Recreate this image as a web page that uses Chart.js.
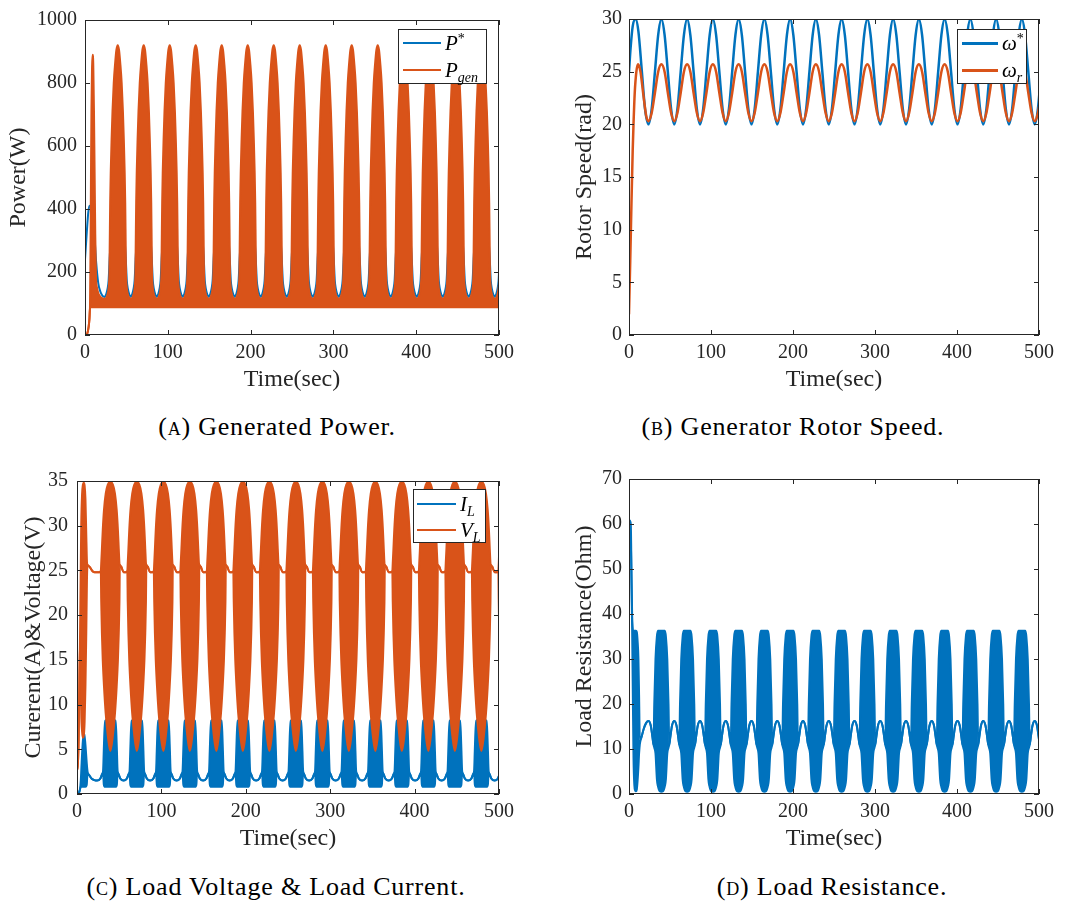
<!DOCTYPE html>
<html>
<head>
<meta charset="utf-8">
<title>Wind generator simulation</title>
<script src="https://cdn.jsdelivr.net/npm/chart.js@4.4.1/dist/chart.umd.min.js"></script>
<style>
  html, body { margin: 0; padding: 0; background: #fff; }
  #figure { position: relative; width: 1079px; height: 903px; font-family: "Liberation Serif", "Times New Roman", serif; color: #000; }
  #figure canvas { position: absolute; }
  .legend { position: absolute; background: #fff; border: 1px solid #262626; box-sizing: border-box; }
  .legend .row { position: absolute; height: 20px; display: flex; align-items: center; white-space: nowrap; }
  .legend .swatch { display: inline-block; }
  .legend .lbl { font-size: 21px; color: #000; line-height: 20px; }
  .legend i { font-style: italic; }
  .legend sup { font-size: 14px; vertical-align: 7px; line-height: 0; }
  .legend sub { font-size: 14px; vertical-align: -5px; line-height: 0; }
  .caption { position: absolute; font-family: "Liberation Serif", "Times New Roman", serif; font-size: 26px; letter-spacing: 0.8px; white-space: nowrap; transform: translate(-50%, -50%); }
  .sc { font-variant: small-caps; }
</style>
</head>
<body>
<div id="figure">
  <canvas id="powerChart" width="540" height="400" style="left:0;top:0"></canvas>
  <canvas id="speedChart" width="539" height="400" style="left:540px;top:0"></canvas>
  <canvas id="loadChart" width="540" height="400" style="left:0;top:460px"></canvas>
  <canvas id="resistChart" width="539" height="400" style="left:540px;top:460px"></canvas>

  <div class="legend" style="left:398px;top:29px;width:89px;height:55px">
    <div class="row" style="left:4px;top:3px"><span class="swatch" style="width:38px;height:2px;background:#0072bd;margin-right:4px"></span><span class="lbl"><i>P</i><sup>*</sup></span></div>
    <div class="row" style="left:4px;top:30px"><span class="swatch" style="width:38px;height:2px;background:#d95319;margin-right:4px"></span><span class="lbl"><i>P</i><sub><i>gen</i></sub></span></div>
  </div>
  <div class="legend" style="left:957px;top:29px;width:70px;height:55px">
    <div class="row" style="left:4px;top:3px"><span class="swatch" style="width:36px;height:3px;background:#0072bd;margin-right:4px"></span><span class="lbl"><i>ω</i><sup>*</sup></span></div>
    <div class="row" style="left:4px;top:30px"><span class="swatch" style="width:36px;height:3px;background:#d95319;margin-right:4px"></span><span class="lbl"><i>ω</i><sub><i>r</i></sub></span></div>
  </div>
  <div class="legend" style="left:413px;top:489px;width:73px;height:54px">
    <div class="row" style="left:3px;top:4px"><span class="swatch" style="width:39px;height:2px;background:#0072bd;margin-right:4px"></span><span class="lbl"><i>I</i><sub><i>L</i></sub></span></div>
    <div class="row" style="left:3px;top:30px"><span class="swatch" style="width:39px;height:2px;background:#d95319;margin-right:4px"></span><span class="lbl"><i>V</i><sub><i>L</i></sub></span></div>
  </div>

  <div class="caption" style="left:277px;top:427px">(<span class="sc">a</span>) Generated Power.</div>
  <div class="caption" style="left:793px;top:427px">(<span class="sc">b</span>) Generator Rotor Speed.</div>
  <div class="caption" style="left:276px;top:887px">(<span class="sc">c</span>) Load Voltage &amp; Load Current.</div>
  <div class="caption" style="left:832px;top:887px">(<span class="sc">d</span>) Load Resistance.</div>
</div>

<script>
const BLUE = '#0072bd';
const ORANGE = '#d95319';
const AXIS = '#262626';

// Tick labels
const xTicks = [0, 100, 200, 300, 400, 500];
const powerTicks = [0, 200, 400, 600, 800, 1000];
const speedTicks = [0, 5, 10, 15, 20, 25, 30];
const loadTicks = [0, 5, 10, 15, 20, 25, 30, 35];
const resistTicks = [0, 10, 20, 30, 40, 50, 60, 70];

// Centre of every wind gust after the start-up (sec); the last one lies past the axis end
const peakTimes = [39.5, 70.9, 102.3, 133.7, 165.1, 196.5, 227.9, 259.3, 290.7, 322.1, 353.5, 384.9, 416.3, 447.7, 479.1, 510.5];

// --- (a) power: start-up part, then one gust cycle (offset from gust centre)
const pRefStartT = [0, 2, 4, 5.5, 8, 11, 13.5, 16, 18.5, 21];
const pRefStartV = [240, 320, 390, 410, 400, 330, 230, 165, 138, 125];
const pRefOffsets = [-15.7, -13.8, -12.3, -11, -9.6, -7.5, -4, 0, 4, 7.5, 9.6, 11, 12.3, 13.8];
const pRefValues = [121, 130, 146, 172, 250, 330, 395, 412, 395, 330, 250, 172, 146, 130];

const pGenStartT = [0, 2, 3.5, 5, 6, 6.6, 7.2, 7.8, 8.5, 9.2, 10, 10.8, 11.6, 12.4, 13.2, 14.5, 16.5, 19, 21.5];
const pGenStartHi = [0, 2, 12, 40, 88, 250, 500, 720, 850, 890, 860, 720, 520, 320, 190, 150, 130, 120, 116];
const pGenStartLo = [0, 2, 12, 40, 88, 88, 88, 88, 88, 88, 88, 88, 88, 88, 88, 88, 88, 88, 88];
const pGenOffsets = [-15.7, -13.5, -11.8, -10.6, -10, -9.6, -9.1, -8.4, -7.4, -6.3, -4.8, -3.2, -1.6, 0, 1.6, 3.2, 4.8, 6.3, 7.4, 8.4, 9.1, 9.6, 10, 10.6, 11.8, 13.5];
const pGenHi = [115, 120, 135, 160, 200, 300, 420, 520, 620, 710, 800, 860, 905, 920, 905, 860, 800, 710, 620, 520, 420, 300, 200, 160, 135, 120];
const pGenLo = [88, 88, 88, 88, 88, 88, 88, 88, 88, 88, 88, 88, 88, 88, 88, 88, 88, 88, 88, 88, 88, 88, 88, 88, 88, 88];

// --- (b) rotor speed
const wRefStartT = [0, 2, 4.5, 8, 11.5, 15.5, 19.5];
const wRefStartV = [25, 27.3, 29.3, 30, 28.8, 25.2, 21.5];
const wRotStartT = [0, 1.5, 3, 4.5, 5.5, 7, 9, 11, 14, 17.5, 21];
const wRotStartV = [2, 7, 12.5, 17.5, 20, 23, 25, 25.7, 25, 22.8, 20.8];
const wOffsets = [-15.7, -11.8, -7.85, -3.9, 0, 3.9, 7.85, 11.8];
const wRefValues = [20, 21.5, 25, 28.5, 30, 28.5, 25, 21.5];
const wRotValues = [20.3, 21.1, 23, 25, 25.7, 25, 23, 21.1];

// --- (c) load voltage and current
const vStartT = [0, 1.2, 2.5, 3.5, 4.3, 5, 6, 7, 8, 9, 10, 11, 11.8, 12.5, 15, 18.5, 21];
const vStartHi = [2.8, 2.8, 10, 17, 24, 30, 33.5, 34.6, 34.8, 34.5, 33, 29, 26, 25.6, 25.4, 24.9, 24.8];
const vStartLo = [2.8, 2.8, 10, 17, 14, 9, 7, 6.3, 6.5, 8, 12, 18, 24, 25.6, 25.4, 24.9, 24.8];
const vOffsets = [-15.7, -13, -11.3, -10.8, -10, -9, -7.5, -5.5, -3, 0, 3, 5.5, 7.5, 9, 10, 10.8, 11.3, 13];
const vHi = [24.8, 24.8, 24.9, 25.8, 27.4, 29.5, 31.8, 33.6, 34.6, 34.9, 34.6, 33.6, 31.8, 29.5, 27.4, 25.8, 25.6, 25.4];
const vLo = [24.8, 24.8, 24.9, 21.5, 18, 15, 12, 9, 6.5, 4.8, 6.5, 9, 12, 15, 18, 21.5, 25.6, 25.4];

const iStartT = [0, 2, 3.5, 4.5, 5.5, 7, 8.5, 10, 11.5, 12.5, 14.5, 17.5, 20.5];
const iStartHi = [0, 0.1, 0.5, 1.5, 3.5, 6, 6.8, 5.5, 3.5, 2.5, 2.1, 1.7, 1.55];
const iStartLo = [0, 0.1, 0.5, 0.8, 0.8, 0.8, 0.8, 0.8, 1, 2.3, 2.1, 1.7, 1.55];
const iOffsets = [-15.7, -12, -9.8, -8.6, -7.8, -7, -6, -3, 0, 3, 6, 7, 7.8, 8.6, 9.8, 12];
const iHi = [1.5, 1.7, 2.2, 2.6, 4.8, 7, 8.2, 8.3, 8.3, 8.3, 8.2, 7, 4.8, 2.6, 2.2, 1.7];
const iLo = [1.5, 1.7, 2.2, 2.4, 1.1, 0.85, 0.8, 0.8, 0.8, 0.8, 0.8, 0.85, 1.1, 2.4, 2.2, 1.7];

// --- (d) load resistance
const rStartT = [0, 1, 2.2, 3, 3.8, 4.5, 5.5, 6.5, 7.5, 8.5, 9.5, 10.5, 11.5, 12.3, 13.2, 15, 18, 21];
const rStartHi = [60.5, 60.8, 60, 50, 40, 37, 36, 36.3, 36.3, 36.3, 36, 34, 30, 22, 12, 12.5, 14.5, 15.8];
const rStartLo = [56, 56.5, 57, 47, 37, 25, 8, 2, 0.8, 0.6, 1, 3, 6, 9, 11, 12.5, 14.5, 15.8];
const rOffsets = [-15.7, -13, -11, -9.6, -8.7, -7.2, -5.5, -4.3, -2, 0, 2, 4.3, 5.5, 7.2, 8.7, 9.6, 11, 13];
const rHi = [16.2, 15.2, 12.8, 11, 20, 30, 35, 36.3, 36.3, 36.3, 36.3, 36.3, 35, 30, 20, 11, 12.8, 15.2];
const rLo = [16.2, 15.2, 12.8, 11, 10.3, 9, 3.3, 1.8, 0.6, 0.5, 0.6, 1.8, 3.3, 9, 10.3, 11, 12.8, 15.2];

Chart.defaults.font.family = '"Liberation Serif", "Times New Roman", serif';
Chart.defaults.color = AXIS;

// start-up points followed by the gust cycle placed at every gust centre
function buildSeries(startT, startV, offsets, values) {
    const pts = startT.map((t, i) => ({ x: t, y: startV[i] }));
    peakTimes.forEach(c => {
        offsets.forEach((o, i) => {
            pts.push({ x: Math.round((c + o) * 100) / 100, y: values[i] });
        });
    });
    return pts;
}

function line(data, color, order, fill) {
    return {
        data: data,
        borderColor: color,
        backgroundColor: color,
        fill: fill === undefined ? false : fill,
        order: order
    };
}

// box around the plot with inward ticks on all four sides
const boxAxes = {
    id: 'boxAxes',
    afterDatasetsDraw(chart) {
        const { ctx, chartArea: a, scales: { x, y } } = chart;
        ctx.save();
        ctx.strokeStyle = AXIS;
        ctx.lineWidth = 1;
        ctx.beginPath();
        x.ticks.forEach(t => {
            const px = Math.round(x.getPixelForValue(t.value)) + 0.5;
            ctx.moveTo(px, a.bottom); ctx.lineTo(px, a.bottom - 5);
            ctx.moveTo(px, a.top); ctx.lineTo(px, a.top + 5);
        });
        y.ticks.forEach(t => {
            const py = Math.round(y.getPixelForValue(t.value)) + 0.5;
            ctx.moveTo(a.left, py); ctx.lineTo(a.left + 5, py);
            ctx.moveTo(a.right, py); ctx.lineTo(a.right - 5, py);
        });
        ctx.stroke();
        ctx.strokeRect(a.left + 0.5, a.top + 0.5, a.right - a.left - 1, a.bottom - a.top - 1);
        ctx.restore();
    }
};

function panelOptions(p) {
    return {
        responsive: false,
        animation: false,
        events: [],
        layout: { padding: { left: 0, top: 16, right: p.right, bottom: 0 } },
        plugins: { legend: { display: false }, tooltip: { enabled: false } },
        elements: {
            point: { radius: 0 },
            line: { borderWidth: p.lineWidth, cubicInterpolationMode: 'monotone', borderCapStyle: 'round', borderJoinStyle: 'round' }
        },
        scales: {
            x: {
                type: 'linear', min: 0, max: 500,
                afterBuildTicks: s => { s.ticks = xTicks.map(v => ({ value: v })); },
                afterFit: s => { s.height = p.xHeight; },
                grid: { display: false, drawTicks: false },
                border: { display: false },
                ticks: { padding: 6, font: { size: 20 }, callback: v => String(v) },
                title: { display: true, text: 'Time(sec)', font: { size: 24 }, padding: { top: 0, bottom: p.xTitlePad } }
            },
            y: {
                type: 'linear', min: p.yTicks[0], max: p.yTicks[p.yTicks.length - 1],
                afterBuildTicks: s => { s.ticks = p.yTicks.map(v => ({ value: v })); },
                afterFit: s => { s.width = p.yWidth; },
                grid: { display: false, drawTicks: false },
                border: { display: false },
                ticks: { padding: p.yTickPad, font: { size: 20 }, callback: v => String(v) },
                title: { display: true, text: p.yTitle, font: { size: 24 }, padding: { top: p.yTitlePad, bottom: 0 } }
            }
        }
    };
}

// (a) Generated power
new Chart(document.getElementById('powerChart'), {
    type: 'line',
    data: {
        datasets: [
            line(buildSeries(pRefStartT, pRefStartV, pRefOffsets, pRefValues), BLUE, 2),
            line(buildSeries(pGenStartT, pGenStartHi, pGenOffsets, pGenHi), ORANGE, 1, 2),
            line(buildSeries(pGenStartT, pGenStartLo, pGenOffsets, pGenLo), ORANGE, 1)
        ]
    },
    options: panelOptions({ right: 41, yWidth: 85, xHeight: 65, xTitlePad: 6, yTitlePad: 4, yTickPad: 8,
        yTicks: powerTicks, yTitle: 'Power(W)', lineWidth: 2 }),
    plugins: [boxAxes]
});

// (b) Generator rotor speed
new Chart(document.getElementById('speedChart'), {
    type: 'line',
    data: {
        datasets: [
            line(buildSeries(wRefStartT, wRefStartV, wOffsets, wRefValues), BLUE, 2),
            line(buildSeries(wRotStartT, wRotStartV, wOffsets, wRotValues), ORANGE, 1)
        ]
    },
    options: panelOptions({ right: 40, yWidth: 89, xHeight: 65, xTitlePad: 6, yTitlePad: 30, yTickPad: 7,
        yTicks: speedTicks, yTitle: 'Rotor Speed(rad)', lineWidth: 2.5 }),
    plugins: [boxAxes]
});

// (c) Load voltage and load current
new Chart(document.getElementById('loadChart'), {
    type: 'line',
    data: {
        datasets: [
            line(buildSeries(iStartT, iStartHi, iOffsets, iHi), BLUE, 2, 1),
            line(buildSeries(iStartT, iStartLo, iOffsets, iLo), BLUE, 2),
            line(buildSeries(vStartT, vStartHi, vOffsets, vHi), ORANGE, 1, 3),
            line(buildSeries(vStartT, vStartLo, vOffsets, vLo), ORANGE, 1)
        ]
    },
    options: panelOptions({ right: 41, yWidth: 77, xHeight: 66, xTitlePad: 7, yTitlePad: 19, yTickPad: 9,
        yTicks: loadTicks, yTitle: 'Curerent(A)&Voltage(V)', lineWidth: 2 }),
    plugins: [boxAxes]
});

// (d) Load resistance
new Chart(document.getElementById('resistChart'), {
    type: 'line',
    data: {
        datasets: [
            line(buildSeries(rStartT, rStartHi, rOffsets, rHi), BLUE, 1, 1),
            line(buildSeries(rStartT, rStartLo, rOffsets, rLo), BLUE, 1)
        ]
    },
    options: panelOptions({ right: 40, yWidth: 89, xHeight: 66, xTitlePad: 7, yTitlePad: 30, yTickPad: 7,
        yTicks: resistTicks, yTitle: 'Load Resistance(Ohm)', lineWidth: 2 }),
    plugins: [boxAxes]
});
</script>
</body>
</html>
